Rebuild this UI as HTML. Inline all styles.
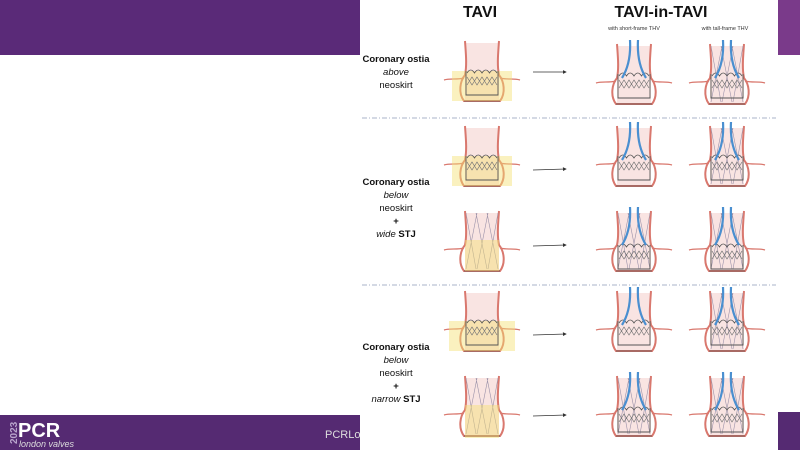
<!DOCTYPE html>
<html><head><meta charset="utf-8"><style>
html,body{margin:0;padding:0;width:800px;height:450px;overflow:hidden;background:#fff;font-family:"Liberation Sans",sans-serif}
</style></head><body>
<svg width="800" height="450" viewBox="0 0 800 450" xmlns="http://www.w3.org/2000/svg">
<defs>
<marker id="ah" markerWidth="5" markerHeight="5" refX="4" refY="2.5" orient="auto"><path d="M0,0 L5,2.5 L0,5 z" fill="#333"/></marker>
<g id="tube">
  <rect x="-17" y="-32" width="34" height="58" fill="#f9e4e2"/>
  <path d="M-17,-34 C-16,-20 -15,-10 -17,0 C-22,6 -24,18 -18,26 L18,26 C24,18 22,6 17,0 C15,-10 16,-20 17,-34" stroke="#d9786e" stroke-width="2" fill="none"/>
  <path d="M-18,3 C-25,5 -32,3 -38,5 M18,3 C25,5 32,3 38,5" stroke="#d9786e" stroke-width="1.3" fill="none"/>
  <line x1="-18" y1="26" x2="18" y2="26" stroke="#555" stroke-width="0.8"/>
</g>
<g id="stent">
  <path d="M-15,-2 q3.75,-6 7.5,0 q3.75,-6 7.5,0 q3.75,-6 7.5,0 q3.75,-6 7.5,0" stroke="#555" stroke-width="0.8" fill="none"/>
  <path d="M-15,2 L-10,10 L-5,2 L0,10 L5,2 L10,10 L15,2 M-15,10 L-10,2 L-5,10 L0,2 L5,10 L10,2 L15,10" stroke="#777" stroke-width="0.7" fill="none"/>
  <path d="M-16,-4 V20 H16 V-4" fill="none" stroke="#555" stroke-width="0.9"/>
</g>
<g id="blue">
  <path d="M-4,-38 C-3,-20 -7,-8 -12,0 M4,-38 C3,-20 7,-8 12,0" stroke="#4a8fd0" stroke-width="2.2" fill="none"/>
</g>
<g id="tall">
  <path d="M-16,-32 L-6,24 M-6,-32 L5,24 M5,-32 L16,24 M16,-32 L6,24 M6,-32 L-5,24 M-5,-32 L-16,24" stroke="#9a90a8" stroke-width="0.6" fill="none"/>
</g>
</defs>
<rect x="0" y="0" width="360" height="55" fill="#5a2a78"/>
<rect x="778" y="0" width="22" height="55" fill="#7a3a8a"/>
<rect x="0" y="415" width="360" height="35" fill="#552a72"/>
<rect x="778" y="412" width="22" height="38" fill="#552a72"/>
<text x="8" y="445" font-size="10" fill="#b9a5cc" font-weight="bold" transform="rotate(-90 12 440)">2023</text>
<text x="18" y="437" font-size="20" font-weight="bold" fill="#fff">PCR</text>
<text x="19" y="447" font-size="9" font-style="italic" fill="#ddd">london valves</text>
<text x="325" y="438" font-size="11" fill="#ddd">PCRLon</text>
<rect x="360" y="0" width="418" height="450" fill="#fff"/>
<text x="480" y="17" font-size="16" font-weight="bold" text-anchor="middle" fill="#111">TAVI</text>
<text x="661" y="17" font-size="16" font-weight="bold" text-anchor="middle" fill="#111">TAVI-in-TAVI</text>
<text x="634" y="30" font-size="5.5" text-anchor="middle" fill="#333">with short-frame THV</text>
<text x="725" y="30" font-size="5.5" text-anchor="middle" fill="#333">with tall-frame THV</text>
<line x1="362" y1="118" x2="776" y2="118" stroke="#8c9ab8" stroke-width="0.8" stroke-dasharray="5,2,1,2"/>
<line x1="362" y1="285" x2="776" y2="285" stroke="#8c9ab8" stroke-width="0.8" stroke-dasharray="5,2,1,2"/>
<g font-family="'Liberation Sans Narrow','Liberation Sans',sans-serif" font-size="9.5" font-weight="bold" text-anchor="middle" fill="#111">
<text x="396" y="62">Coronary ostia</text>
<text x="396" y="75" font-style="italic" font-weight="normal">above</text>
<text x="396" y="88" font-weight="normal">neoskirt</text>
<text x="396" y="185">Coronary ostia</text>
<text x="396" y="198" font-style="italic" font-weight="normal">below</text>
<text x="396" y="211" font-weight="normal">neoskirt</text>
<text x="396" y="224">+</text>
<text x="396" y="237"><tspan font-style="italic" font-weight="normal">wide</tspan> STJ</text>
<text x="396" y="350">Coronary ostia</text>
<text x="396" y="363" font-style="italic" font-weight="normal">below</text>
<text x="396" y="376" font-weight="normal">neoskirt</text>
<text x="396" y="389">+</text>
<text x="396" y="402"><tspan font-style="italic" font-weight="normal">narrow</tspan> STJ</text>
</g>
<g stroke="#333" stroke-width="0.8" marker-end="url(#ah)">
<line x1="533" y1="72" x2="566" y2="72"/><line x1="533" y1="170" x2="566" y2="169"/><line x1="533" y1="246" x2="566" y2="245"/><line x1="533" y1="335" x2="566" y2="334"/><line x1="533" y1="416" x2="566" y2="415"/>
</g>
<!-- TAVI column -->
<g transform="translate(482,75)"><use href="#tube"/><rect x="-30" y="-4" width="60" height="30" fill="#f5e070" opacity="0.45"/><use href="#stent"/></g>
<g transform="translate(482,160)"><use href="#tube"/><rect x="-30" y="-4" width="60" height="30" fill="#f5e070" opacity="0.45"/><use href="#stent"/></g>
<g transform="translate(482,245)"><use href="#tube"/><use href="#tall"/><rect x="-17" y="-5" width="34" height="31" fill="#f5e070" opacity="0.45"/></g>
<g transform="translate(482,325)"><use href="#tube"/><rect x="-33" y="-4" width="66" height="30" fill="#f5e070" opacity="0.45"/><use href="#stent"/></g>
<g transform="translate(482,410)"><use href="#tube"/><use href="#tall"/><rect x="-17" y="-5" width="34" height="33" fill="#f5e070" opacity="0.45"/></g>
<!-- short-frame -->
<g transform="translate(634,78)"><use href="#tube"/><use href="#stent"/><use href="#blue"/></g>
<g transform="translate(634,160)"><use href="#tube"/><use href="#stent"/><use href="#blue"/></g>
<g transform="translate(634,245)"><use href="#tube"/><use href="#tall"/><use href="#stent" y="4"/><use href="#blue"/></g>
<g transform="translate(634,325)"><use href="#tube"/><use href="#stent"/><use href="#blue"/></g>
<g transform="translate(634,410)"><use href="#tube"/><use href="#tall"/><use href="#stent" y="2"/><use href="#blue"/></g>
<!-- tall-frame -->
<g transform="translate(727,78)"><use href="#tube"/><use href="#tall"/><use href="#stent"/><use href="#blue"/></g>
<g transform="translate(727,160)"><use href="#tube"/><use href="#tall"/><use href="#stent"/><use href="#blue"/></g>
<g transform="translate(727,245)"><use href="#tube"/><use href="#tall"/><use href="#stent" y="4"/><use href="#blue"/></g>
<g transform="translate(727,325)"><use href="#tube"/><use href="#tall"/><use href="#stent"/><use href="#blue"/></g>
<g transform="translate(727,410)"><use href="#tube"/><use href="#tall"/><use href="#stent" y="2"/><use href="#blue"/></g>
</svg>
</body></html>
